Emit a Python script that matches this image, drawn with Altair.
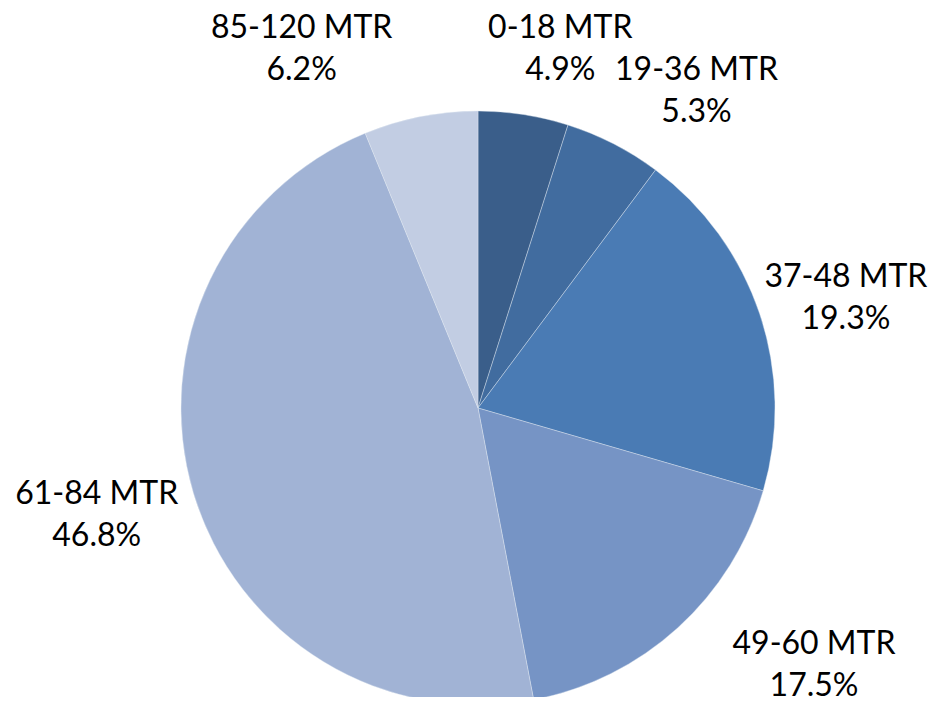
import math
import altair as alt
import pandas as pd

# ---- data ----
categories = ["0-18 MTR", "19-36 MTR", "37-48 MTR", "49-60 MTR", "61-84 MTR", "85-120 MTR"]
shares = [4.9, 5.3, 19.3, 17.5, 46.8, 6.2]
colors = ["#3A5E8A", "#416C9F", "#4A7BB4", "#7694C5", "#A1B3D5", "#C2CDE3"]

# ---- label layout (Excel-style "best fit" nudges) ----
label_angle_nudge_deg = [4.1, 7.4, 1.9, -10.3, 0.9, -15.0]
label_radius_px = [368, 385, 384, 423, 396, 400]

total = sum(shares)
rows = []
cum = 0.0
for i, (c, s) in enumerate(zip(categories, shares)):
    mid = (cum + s / 2) / total * 2 * math.pi
    cum += s
    rows.append({
        "cat": c,
        "share": s,
        "order": i,
        "label": f"{c}\n{s:.1f}%",
        "lt": mid + math.radians(label_angle_nudge_deg[i]),
        "lr": label_radius_px[i],
    })
df = pd.DataFrame(rows)

CX, CY, R = 470, 400, 297
LINE_H = 42

base = alt.Chart(df)

pie = base.mark_arc(radius=R, stroke="#e4eaf3", strokeWidth=0.4).encode(
    theta=alt.Theta("share:Q", stack=True),
    order=alt.Order("order:Q"),
    color=alt.Color("cat:N", scale=alt.Scale(domain=categories, range=colors), legend=None),
    x=alt.value(CX),
    y=alt.value(CY),
)

labels = base.mark_text(
    font="Lato", fontSize=32, color="#000000", align="center", baseline="middle",
    lineBreak="\n", lineHeight=LINE_H, dy=-LINE_H / 2,
).encode(
    theta=alt.Theta("lt:Q", scale=None),
    radius=alt.Radius("lr:Q", scale=None),
    text="label:N",
    x=alt.value(CX),
    y=alt.value(CY),
)

chart = alt.layer(pie, labels).properties(
    width=935, height=689, padding=0, autosize="none"
).configure_view(stroke=None)

chart.save("out.html", embed_options={"renderer": "svg", "actions": False})
